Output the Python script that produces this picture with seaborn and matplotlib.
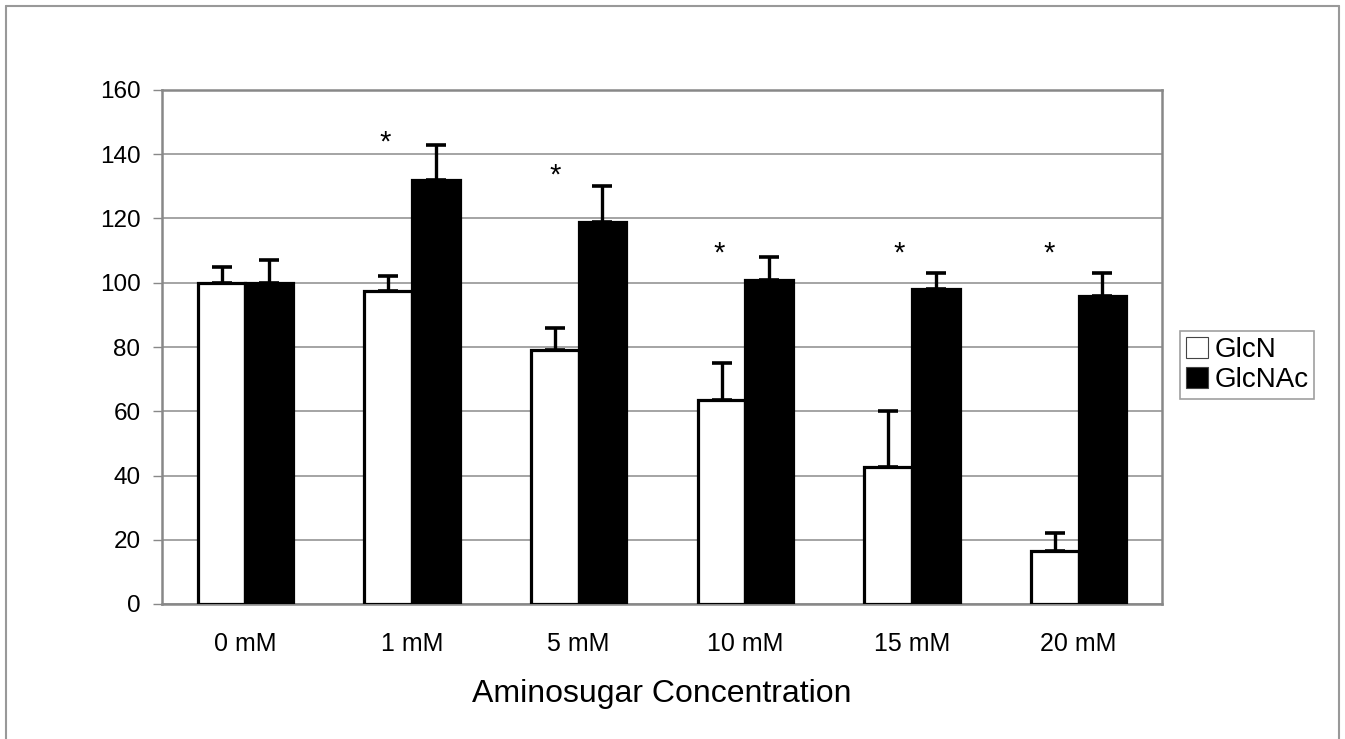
import matplotlib
matplotlib.use("Agg")
import matplotlib.pyplot as plt
import seaborn as sns
import pandas as pd
import numpy as np
from matplotlib.lines import Line2D

categories = ["0 mM", "1 mM", "5 mM", "10 mM", "15 mM", "20 mM"]
series_names = ["GlcN", "GlcNAc"]
glcn = [100, 97.5, 79, 63.5, 42.5, 16.5]
glcn_err = [5, 4.5, 7, 11.5, 17.5, 5.5]
glcnac = [100, 132, 119, 101, 98, 96]
glcnac_err = [7, 11, 11, 7, 5, 7]
yticks = [0, 20, 40, 60, 80, 100, 120, 140, 160]
star_cats = ["1 mM", "5 mM", "10 mM", "15 mM", "20 mM"]
star_y = [143.5, 133.5, 109, 109, 109]
star_dx = [-0.16, -0.14, -0.16, -0.08, -0.18]

sns.set_theme(style="white")
plt.rcParams["font.family"] = ["Liberation Sans", "DejaVu Sans"]
plt.rcParams["text.color"] = "black"
plt.rcParams["xtick.labelcolor"] = "black"
plt.rcParams["ytick.labelcolor"] = "black"
plt.rcParams["axes.labelcolor"] = "black"

df = pd.DataFrame({
    "cat": categories * 2,
    "series": [series_names[0]] * 6 + [series_names[1]] * 6,
    "value": glcn + glcnac,
})

fig = plt.figure(figsize=(13.45, 7.39), dpi=100)
ax = fig.add_axes([162 / 1345, 1 - 604 / 739, 1000 / 1345, 514 / 739])

sns.barplot(data=df, x="cat", y="value", hue="series", order=categories,
            hue_order=series_names, palette=["white", "black"],
            edgecolor="black", linewidth=2.3, width=0.571, errorbar=None,
            ax=ax, zorder=3)

# error bars (upward only)
bar_patches = [p for p in ax.patches if p.get_height() > 0][:12]
errs = glcn_err + glcnac_err
for p, e in zip(bar_patches, errs):
    xc = p.get_x() + p.get_width() / 2
    top = p.get_y() + p.get_height()
    ax.errorbar([xc], [top], yerr=[[0], [e]], fmt="none", ecolor="black",
                elinewidth=2.4, capsize=7.5, capthick=2.6, zorder=4)

# asterisks
for c, yv, dx in zip(star_cats, star_y, star_dx):
    xi = categories.index(c) + dx
    ax.text(xi, yv, "*", ha="center", va="center", fontsize=21, color="black")

ax.set_ylim(0, 160)
ax.set_xlim(-0.5, len(categories) - 0.5)
ax.set_yticks(yticks)
ax.set_yticklabels([str(t) for t in yticks], fontsize=17.5, color="black")
ax.set_xticks(range(len(categories)))
ax.set_xticklabels(categories, fontsize=18, color="black")
ax.set_xticks(np.arange(-0.5, len(categories), 1.0), minor=True)
ax.tick_params(axis="x", which="major", length=0, pad=20)
ax.tick_params(axis="x", which="minor", length=6.5, width=1, color="#888888", direction="out")
ax.tick_params(axis="y", which="major", length=6.5, width=1, color="#888888", direction="out", pad=9, left=True)
ax.set_xlabel("Aminosugar Concentration", fontsize=23, labelpad=17, color="black")
ax.set_ylabel("")

ax.yaxis.grid(True, color="#8c8c8c", linewidth=1.1, zorder=0)
ax.set_axisbelow(True)
for s in ax.spines.values():
    s.set_visible(True)
    s.set_color("#888888")
    s.set_linewidth(1.8)

# legend
handles, labels = ax.get_legend_handles_labels()
ax.legend(handles, labels, loc="upper left",
          bbox_to_anchor=(1180 / 1345, 1 - 331 / 739), bbox_transform=fig.transFigure,
          fontsize=20, frameon=True, fancybox=False, edgecolor="#888888",
          handlelength=0.8, handleheight=0.8, handletextpad=0.25,
          borderpad=0.2, labelspacing=0.15, borderaxespad=0)
leg = ax.get_legend()
leg.get_frame().set_linewidth(1.2)
for t in leg.get_texts():
    t.set_color("black")
for h in leg.legend_handles:
    h.set_linewidth(0.8)
    h.set_edgecolor("#444444")

# outer frame
fig.add_artist(Line2D([6 / 1345, 6 / 1345], [0, 1 - 6 / 739], transform=fig.transFigure,
                      color="#999999", linewidth=1.5))
fig.add_artist(Line2D([6 / 1345, 1339 / 1345], [1 - 6 / 739, 1 - 6 / 739], transform=fig.transFigure,
                      color="#999999", linewidth=1.5))
fig.add_artist(Line2D([1339 / 1345, 1339 / 1345], [0, 1 - 6 / 739], transform=fig.transFigure,
                      color="#999999", linewidth=1.5))

fig.savefig("out.png", dpi=100)
